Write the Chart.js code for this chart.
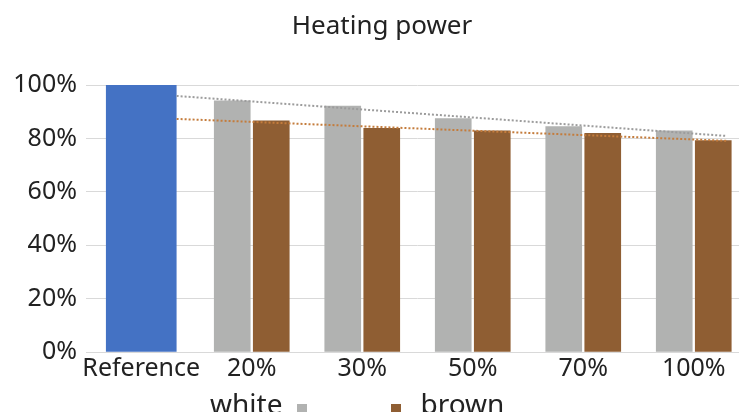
<!DOCTYPE html>
<html>
<head>
<meta charset="utf-8">
<title>Heating power</title>
<script src="https://cdn.jsdelivr.net/npm/chart.js@4.4.1/dist/chart.umd.min.js"></script>
<style>
  body { margin: 0; background: #fff; overflow: hidden; }
  #wrap { position: relative; width: 739px; height: 412px; overflow: hidden; }
  #box { position: absolute; left: 0; top: 0; width: 749px; height: 412px; }
  #legend {
    position: absolute; left: 210px; top: 389px;
    font-family: "Noto Sans", sans-serif; font-size: 28px; line-height: 28px;
    color: #222; white-space: nowrap;
  }
  #legend .sw { display: inline-block; width: 10px; height: 10px; }
</style>
</head>
<body>
<div id="wrap">
  <div id="box"><canvas id="chart"></canvas></div>
  <div id="legend">
    <span>white</span><span class="sw" style="background:#b1b2b1;margin-left:15px"></span><span class="sw" style="background:#8f5e33;margin-left:84px"></span><span style="margin-left:19px">brown</span>
  </div>
</div>
<script>
  // categories and values (percent)
  const categories = ["Reference", "20%", "30%", "50%", "70%", "100%"];
  const referenceValues = [100, null, null, null, null, null];
  const whiteValues = [null, 94.1, 92.1, 87.4, 84.4, 82.8];
  const brownValues = [null, 86.6, 83.8, 82.8, 81.9, 79.2];
  const yTicks = [0, 20, 40, 60, 80, 100];

  // linear trend lines, end points in category-index units
  const trendX = [0.32, 5.3];
  const whiteTrend = [95.9, 80.9];
  const brownTrend = [87.3, 79.1];

  const blue = "#4472c4";
  const gray = "#b1b2b1";
  const brown = "#8f5e33";
  const font = "Noto Sans";

  // bars sit on a hidden linear axis (one unit per category) so the
  // two series can be placed side by side around each category centre
  const slot = 0.1765;
  const barPoints = (vals, shift) =>
    vals
      .map((v, i) => ({ x: i + shift, y: v }))
      .filter((p) => p.y !== null);
  const toPoints = (ys) => trendX.map((x, i) => ({ x: x, y: ys[i] }));

  const ctx = document.getElementById("chart").getContext("2d");

  new Chart(ctx, {
    type: "bar",
    data: {
      labels: categories,
      datasets: [
        {
          type: "line",
          label: "white trend",
          data: toPoints(whiteTrend),
          xAxisID: "xb",
          borderColor: "#9c9c9c",
          borderWidth: 2,
          borderDash: [2, 2],
          pointRadius: 0,
          order: 0,
        },
        {
          type: "line",
          label: "brown trend",
          data: toPoints(brownTrend),
          xAxisID: "xb",
          borderColor: "#c47c3c",
          borderWidth: 2,
          borderDash: [2, 2],
          pointRadius: 0,
          order: 0,
        },
        {
          label: "Reference",
          data: barPoints(referenceValues, 0),
          xAxisID: "xb",
          backgroundColor: blue,
          grouped: false,
          barThickness: 70,
          order: 1,
        },
        {
          label: "white",
          data: barPoints(whiteValues, -slot),
          xAxisID: "xb",
          backgroundColor: gray,
          grouped: false,
          barThickness: 36,
          order: 1,
        },
        {
          label: "brown",
          data: barPoints(brownValues, slot),
          xAxisID: "xb",
          backgroundColor: brown,
          grouped: false,
          barThickness: 36,
          order: 1,
        },
      ],
    },
    options: {
      responsive: true,
      maintainAspectRatio: false,
      animation: false,
      layout: { padding: { left: 15, right: 0, top: 0, bottom: 26 } },
      plugins: {
        legend: { display: false },
        tooltip: { enabled: false },
        title: {
          display: true,
          text: "Heating power",
          color: "#222",
          font: { family: font, size: 26, weight: "normal" },
          padding: { top: 11, bottom: 42.8 },
        },
      },
      scales: {
        x: {
          type: "category",
          offset: true,
          grid: { display: false, drawTicks: false },
          border: { color: "#d9d9d9", width: 1 },
          ticks: {
            color: "#222",
            padding: 2,
            maxRotation: 0,
            autoSkip: false,
            font: { family: font, size: 25 },
          },
        },
        xb: {
          type: "linear",
          display: false,
          offset: false,
          min: -0.5,
          max: 5.5,
        },
        y: {
          min: 0,
          max: 100,
          afterFit: (s) => { s.width = 71; },
          afterBuildTicks: (s) => { s.ticks = yTicks.map((v) => ({ value: v })); },
          grid: { color: "#d9d9d9", drawTicks: false },
          border: { display: false },
          ticks: {
            color: "#222",
            padding: 9,
            font: { family: font, size: 25 },
            callback: (v) => v + "%",
          },
        },
      },
    },
  });
</script>
</body>
</html>
